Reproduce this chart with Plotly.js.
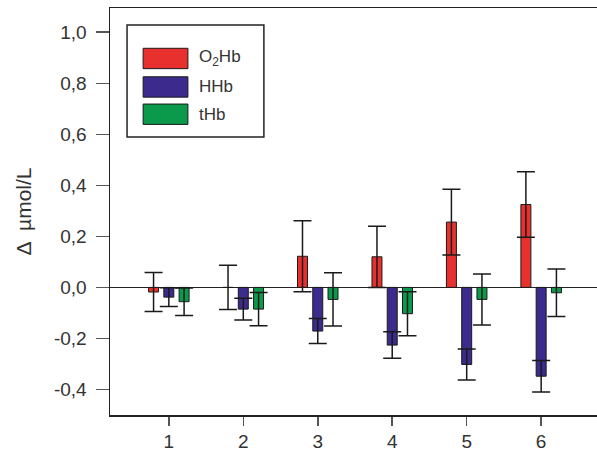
<!DOCTYPE html>
<html>
<head>
<meta charset="utf-8">
<script src="https://cdn.plot.ly/plotly-3.0.1.min.js"></script>
<style>
  html, body { margin: 0; padding: 0; background: #fff; }
  #chart { width: 597px; height: 459px; }
</style>
</head>
<body>
<div id="chart"></div>
<script>
// Measurement blocks and mean changes (µmol/L) with their error margins
const blocks = [1, 2, 3, 4, 5, 6];
const seriesNames = ['O<sub>2</sub>Hb', 'HHb', 'tHb'];
const o2hb    = [-0.018, 0.0, 0.122, 0.12, 0.256, 0.325];
const o2hbErr = [0.076, 0.087, 0.139, 0.12, 0.129, 0.128];
const hhb     = [-0.038, -0.085, -0.171, -0.226, -0.302, -0.348];
const hhbErr  = [0.037, 0.043, 0.049, 0.052, 0.061, 0.062];
const thb     = [-0.056, -0.085, -0.047, -0.103, -0.047, -0.021];
const thbErr  = [0.054, 0.065, 0.104, 0.086, 0.1, 0.093];
const yTickVals = [-0.4, -0.2, 0.0, 0.2, 0.4, 0.6, 0.8, 1.0];
const yTickText = ['-0,4', '-0,2', '0,0', '0,2', '0,4', '0,6', '0,8', '1,0'];

const colors = ['#E8312F', '#3C2A8C', '#0B9A4B'];
const barW = 0.134;
const shift = 0.205;
const fontFamily = 'Liberation Sans, Arial, sans-serif';

function barTrace(name, y, err, color, center) {
  return {
    type: 'bar', name: name, x: blocks, y: y,
    width: barW, offset: center - barW / 2,
    marker: { color: color, line: { color: '#1a1a1a', width: 1 } },
    error_y: { type: 'data', array: err, visible: true, color: '#1a1a1a', thickness: 1.5, width: 9 },
    showlegend: false
  };
}

const data = [
  barTrace(seriesNames[0], o2hb, o2hbErr, colors[0], -shift),
  barTrace(seriesNames[1], hhb, hhbErr, colors[1], 0),
  barTrace(seriesNames[2], thb, thbErr, colors[2], shift)
];

// Legend box with wide swatches, drawn in paper coordinates
const swatchRows = [0.876, 0.806, 0.739];
const shapes = [{
  type: 'rect', xref: 'paper', yref: 'paper',
  x0: 0.035, x1: 0.316, y0: 0.683, y1: 0.958,
  line: { color: '#222', width: 1.5 }, fillcolor: 'rgba(0,0,0,0)'
}];
const annotations = [];
seriesNames.forEach((name, i) => {
  shapes.push({
    type: 'rect', xref: 'paper', yref: 'paper',
    x0: 0.068, x1: 0.160, y0: swatchRows[i] - 0.025, y1: swatchRows[i] + 0.025,
    line: { color: '#1a1a1a', width: 1 }, fillcolor: colors[i]
  });
  annotations.push({
    xref: 'paper', yref: 'paper', x: 0.178, y: swatchRows[i],
    xanchor: 'left', yanchor: 'middle', text: name, showarrow: false,
    font: { family: fontFamily, size: 17, color: '#333' }
  });
});

const layout = {
  width: 597, height: 459,
  margin: { l: 110, r: 0, t: 8, b: 44 },
  paper_bgcolor: '#fff', plot_bgcolor: '#fff',
  barmode: 'overlay',
  font: { family: fontFamily, size: 19, color: '#333' },
  xaxis: {
    range: [0.21, 6.75], tickvals: blocks, ticktext: blocks.map(String),
    showgrid: false, zeroline: false,
    showline: true, linecolor: '#222', linewidth: 1.5, mirror: true,
    ticks: 'outside', ticklen: 9, tickwidth: 1.5, tickcolor: '#555',
    tickfont: { size: 19, color: '#333' }
  },
  yaxis: {
    range: [-0.5, 1.095], tickvals: yTickVals, ticktext: yTickText,
    showgrid: false, zeroline: true, zerolinecolor: '#222', zerolinewidth: 1.5,
    showline: true, linecolor: '#222', linewidth: 1.5,
    ticks: 'outside', ticklen: 13, tickwidth: 1.5, tickcolor: '#555',
    ticklabelstandoff: 5,
    tickfont: { size: 19, color: '#333' },
    title: { text: 'Δ  µmol/L', font: { size: 21, color: '#333' }, standoff: 16 }
  },
  shapes: shapes,
  annotations: annotations
};

Plotly.newPlot('chart', data, layout, { displayModeBar: false, staticPlot: true });
</script>
</body>
</html>
